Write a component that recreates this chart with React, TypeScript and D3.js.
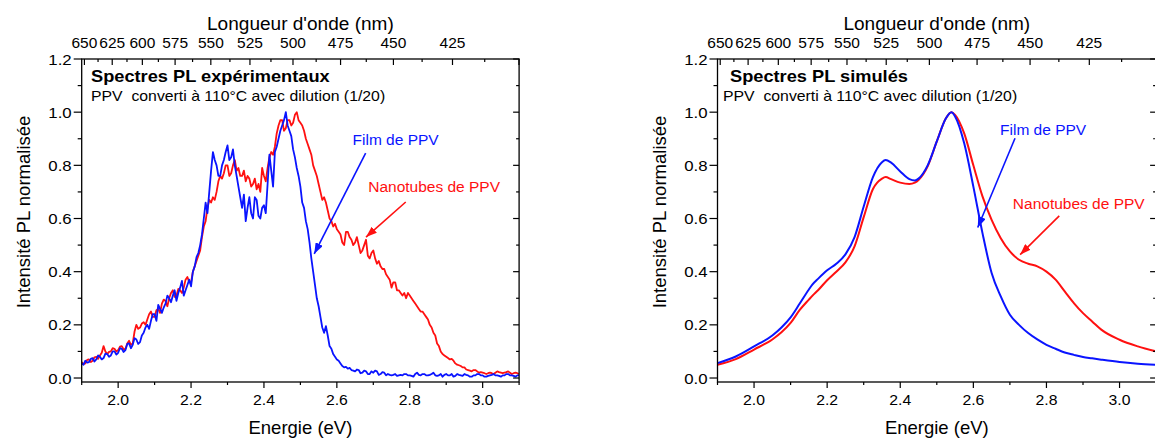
import React from "react";
import * as d3 from "d3";

// ---------- DATA ----------
// Experimental spectra (left panel), energy grid 1.900 .. 3.100 eV, step 0.005
const expEnergy: number[] = d3.range(0, 241).map((i) => +(1.9 + i * 0.005).toFixed(3));

const expFilm: number[] = [
  // 1.900 – 1.995
  0.055, 0.05, 0.065, 0.058, 0.06, 0.072, 0.075, 0.062, 0.07, 0.085, 0.08, 0.07, 0.075, 0.092, 0.09, 0.08, 0.085, 0.1, 0.1, 0.088,
  // 2.000 – 2.095
  0.095, 0.112, 0.11, 0.098, 0.105, 0.128, 0.13, 0.112, 0.125, 0.15, 0.145, 0.128, 0.135, 0.16, 0.17, 0.19, 0.2, 0.185, 0.215, 0.24,
  // 2.100 – 2.195
  0.24, 0.215, 0.275, 0.26, 0.245, 0.265, 0.28, 0.31, 0.3, 0.285, 0.31, 0.33, 0.29, 0.32, 0.34, 0.365, 0.31, 0.33, 0.35, 0.37,
  // 2.200 – 2.295
  0.345, 0.4, 0.42, 0.455, 0.47, 0.5, 0.54, 0.6, 0.66, 0.62, 0.7, 0.78, 0.85, 0.82, 0.8, 0.76, 0.76, 0.8, 0.82, 0.85,
  // 2.300 – 2.395
  0.875, 0.82, 0.83, 0.86, 0.8, 0.76, 0.72, 0.68, 0.64, 0.69, 0.59, 0.64, 0.68, 0.62, 0.6, 0.68, 0.67, 0.61, 0.6, 0.64,
  // 2.400 – 2.495
  0.65, 0.62, 0.73, 0.84, 0.78, 0.72, 0.85, 0.87, 0.9, 0.93, 0.95, 0.97, 1.0, 0.95, 0.93, 0.91, 0.86, 0.83, 0.79, 0.76,
  // 2.500 – 2.595
  0.72, 0.66, 0.64, 0.59, 0.56, 0.51, 0.45, 0.4, 0.35, 0.3, 0.27, 0.23, 0.19, 0.17, 0.195, 0.16, 0.12, 0.11, 0.09, 0.08,
  // 2.600 – 2.695
  0.07, 0.065, 0.055, 0.045, 0.04, 0.042, 0.035, 0.038, 0.03, 0.028, 0.025, 0.032, 0.03, 0.018, 0.02, 0.028, 0.025, 0.015, 0.015, 0.025,
  // 2.700 – 2.795
  0.02, 0.028, 0.025, 0.012, 0.015, 0.022, 0.02, 0.01, 0.015, 0.012, 0.01, 0.012, 0.015, 0.008, 0.01, 0.012, 0.01, 0.015, 0.015, 0.01,
  // 2.800 – 2.895
  0.01, 0.008, 0.005, 0.015, 0.02, 0.012, 0.01, 0.015, 0.015, 0.01, 0.01, 0.012, 0.015, 0.02, 0.01, 0.008, 0.01, 0.015, 0.005, 0.012,
  // 2.900 – 2.995
  0.015, 0.01, 0.01, 0.015, 0.005, 0.008, 0.015, 0.012, 0.01, 0.008, 0.015, 0.012, 0.01, 0.005, 0.005, 0.01, 0.01, 0.015, 0.015, 0.01,
  // 3.000 – 3.095
  0.01, 0.005, 0.005, 0.008, 0.01, 0.012, 0.015, 0.01, 0.01, 0.008, 0.005, 0.01, 0.01, 0.015, 0.015, 0.01, 0.01, 0.008, 0.005, 0.01,
  // 3.100
  0.01,
];

const expTubes: number[] = [
  // 1.900 – 1.995
  0.06, 0.052, 0.055, 0.068, 0.07, 0.06, 0.065, 0.078, 0.08, 0.072, 0.085, 0.095, 0.12, 0.1, 0.09, 0.098, 0.1, 0.112, 0.11, 0.1,
  // 2.000 – 2.095
  0.105, 0.118, 0.12, 0.108, 0.11, 0.13, 0.14, 0.125, 0.13, 0.175, 0.2, 0.185, 0.19, 0.205, 0.21, 0.2, 0.22, 0.24, 0.25, 0.23,
  // 2.100 – 2.195
  0.23, 0.255, 0.26, 0.245, 0.28, 0.295, 0.29, 0.27, 0.3, 0.32, 0.33, 0.305, 0.31, 0.335, 0.33, 0.32, 0.34, 0.37, 0.38, 0.36,
  // 2.200 – 2.295
  0.36, 0.4, 0.42, 0.44, 0.46, 0.48, 0.53, 0.57, 0.59, 0.64, 0.67, 0.66, 0.68, 0.67, 0.7, 0.74, 0.76, 0.75, 0.77, 0.8,
  // 2.300 – 2.395
  0.8, 0.76, 0.77, 0.8, 0.82, 0.78, 0.79, 0.76, 0.76, 0.78, 0.74, 0.76, 0.75, 0.72, 0.73, 0.75, 0.71, 0.73, 0.7, 0.79,
  // 2.400 – 2.495
  0.76, 0.74, 0.79, 0.83, 0.85, 0.84, 0.87, 0.92, 0.95, 0.97, 0.97, 0.93, 0.94, 0.97, 0.97, 0.95, 0.96, 0.99, 1.0, 0.97,
  // 2.500 – 2.595
  0.96, 0.95, 0.93, 0.9, 0.88, 0.86, 0.84, 0.8, 0.78, 0.76, 0.73, 0.7, 0.67, 0.68, 0.66, 0.63, 0.6, 0.59, 0.57, 0.58,
  // 2.600 – 2.695
  0.56, 0.55, 0.54, 0.51, 0.5, 0.55, 0.55, 0.53, 0.52, 0.5, 0.51, 0.53, 0.5, 0.47, 0.48, 0.5, 0.52, 0.46, 0.45, 0.47,
  // 2.700 – 2.795
  0.48, 0.45, 0.43, 0.44, 0.42, 0.41, 0.41, 0.39, 0.38, 0.37, 0.34, 0.36, 0.36, 0.33, 0.33, 0.32, 0.31, 0.32, 0.3, 0.32,
  // 2.800 – 2.895
  0.31, 0.3, 0.29, 0.28, 0.27, 0.26, 0.25, 0.25, 0.24, 0.23, 0.22, 0.2, 0.19, 0.17, 0.16, 0.13, 0.12, 0.1, 0.09, 0.085,
  // 2.900 – 2.995
  0.08, 0.075, 0.07, 0.072, 0.065, 0.055, 0.05, 0.048, 0.045, 0.04, 0.04, 0.032, 0.03, 0.028, 0.025, 0.03, 0.03, 0.025, 0.02, 0.022,
  // 3.000 – 3.095
  0.02, 0.018, 0.015, 0.018, 0.02, 0.018, 0.015, 0.02, 0.025, 0.022, 0.02, 0.018, 0.02, 0.022, 0.025, 0.02, 0.015, 0.018, 0.02, 0.018,
  // 3.100
  0.015,
];

// Simulated spectra (right panel)
const simEnergy: number[] = [
  1.9, 1.95, 2.0, 2.05, 2.075, 2.1, 2.125, 2.15, 2.16, 2.175, 2.2, 2.225, 2.25, 2.275, 2.3, 2.325, 2.35, 2.36,
  2.375, 2.4, 2.425, 2.44, 2.45, 2.475, 2.5, 2.525, 2.54, 2.55, 2.575, 2.6, 2.625, 2.65,
  2.675, 2.7, 2.725, 2.75, 2.775, 2.8, 2.825, 2.85, 2.875, 2.9, 2.925, 2.95, 3.0, 3.05, 3.1,
];
const simFilm: number[] = [
  0.056, 0.081, 0.119, 0.16, 0.19, 0.228, 0.28, 0.333, 0.352, 0.373, 0.405, 0.43, 0.465, 0.53, 0.645, 0.755, 0.812, 0.82,
  0.81, 0.777, 0.748, 0.743, 0.75, 0.8, 0.89, 0.977, 1.0, 0.984, 0.883, 0.72, 0.545, 0.395,
  0.307, 0.238, 0.2, 0.169, 0.145, 0.125, 0.11, 0.096, 0.087, 0.079, 0.074, 0.069, 0.06, 0.054, 0.05,
];
const simTubes: number[] = [
  0.05, 0.071, 0.107, 0.145, 0.172, 0.207, 0.256, 0.295, 0.31, 0.33, 0.368, 0.4, 0.435, 0.495, 0.605, 0.71, 0.75, 0.756,
  0.748, 0.735, 0.73, 0.735, 0.745, 0.796, 0.89, 0.977, 1.0, 0.99, 0.92, 0.8, 0.683, 0.595,
  0.526, 0.476, 0.445, 0.43, 0.42, 0.4, 0.37, 0.326, 0.282, 0.244, 0.213, 0.182, 0.144, 0.119, 0.1,
];

// Axis ticks
const yMajorTicks = [0, 0.2, 0.4, 0.6, 0.8, 1.0, 1.2];
const yMinorTicks = [0.1, 0.3, 0.5, 0.7, 0.9, 1.1];
const xMajorTicks = [2.0, 2.2, 2.4, 2.6, 2.8, 3.0];
const xMinorTicks = [1.9, 2.1, 2.3, 2.5, 2.7, 2.9, 3.1];
const wlLabelled = [650, 625, 600, 575, 550, 525, 500, 475, 450, 425];
const wlMajor = [650, 625, 600, 575, 550, 525, 500, 475, 450, 425, 400];
const wlMinor = [637.5, 612.5, 587.5, 562.5, 537.5, 512.5, 487.5, 462.5, 437.5, 412.5];

const HC = 1239.84; // eV·nm

// ---------- LAYOUT ----------
const W = 1155;
const H = 440;
const FONT = "Arial, 'Liberation Sans', Helvetica, sans-serif";
const BLUE = "#0a14ff";
const RED = "#ff1010";
const Y_TOP = 59;
const Y_BOT = 382;

type Annot = {
  text: string;
  color: string;
  tx: number;
  ty: number;
  from: [number, number];
  to: [number, number];
};

type PanelProps = {
  id: string;
  left: number;
  right: number;
  title: string;
  titleX: number;
  subX: number;
  energy: number[];
  film: number[];
  tubes: number[];
  curve: d3.CurveFactory;
  lineWidth: number;
  annots: Annot[];
};

function SText(props: {
  x: number;
  y: number;
  sx?: number;
  size: number;
  anchor?: string;
  weight?: string | number;
  fill?: string;
  children: React.ReactNode;
}) {
  const { x, y, sx = 1, size, anchor = "start", weight = "normal", fill = "#000" } = props;
  return (
    <text
      transform={`translate(${x},${y}) scale(${sx},1)`}
      fontSize={size}
      fontFamily={FONT}
      textAnchor={anchor}
      fontWeight={weight}
      fill={fill}
      style={{ whiteSpace: "pre" }}
    >
      {props.children}
    </text>
  );
}

function Panel(p: PanelProps) {
  const x = d3.scaleLinear().domain([1.9, 3.1]).range([p.left, p.right]);
  const y = d3.scaleLinear().domain([-0.015, 1.2]).range([Y_BOT, Y_TOP]);
  const line = d3
    .line<number>()
    .x((_, i) => x(p.energy[i]))
    .y((d) => y(d))
    .curve(p.curve);
  const cx = (p.left + p.right) / 2;
  const fmt = d3.format(".1f");
  return (
    <g>
      <defs>
        <clipPath id={`clip-${p.id}`}>
          <rect x={p.left} y={Y_TOP} width={p.right - p.left} height={Y_BOT - Y_TOP} />
        </clipPath>
        <marker id={`arB-${p.id}`} markerUnits="userSpaceOnUse" markerWidth={12} markerHeight={8} refX={11} refY={4} orient="auto">
          <path d="M0,0 L11,4 L0,8 z" fill={BLUE} />
        </marker>
        <marker id={`arR-${p.id}`} markerUnits="userSpaceOnUse" markerWidth={12} markerHeight={8} refX={11} refY={4} orient="auto">
          <path d="M0,0 L11,4 L0,8 z" fill={RED} />
        </marker>
      </defs>

      <g clipPath={`url(#clip-${p.id})`}>
        <path d={line(p.tubes) || ""} fill="none" stroke={RED} strokeWidth={p.lineWidth} strokeLinejoin="round" />
        <path d={line(p.film) || ""} fill="none" stroke={BLUE} strokeWidth={p.lineWidth} strokeLinejoin="round" />
      </g>

      <rect x={p.left} y={Y_TOP} width={p.right - p.left} height={Y_BOT - Y_TOP} fill="none" stroke="#000" strokeWidth={1.3} />

      {yMajorTicks.map((t) => (
        <g key={`ly${t}`}>
          <line x1={p.left - 8} x2={p.left} y1={y(t)} y2={y(t)} stroke="#000" strokeWidth={1.2} />
          <line x1={p.right - 6} x2={p.right} y1={y(t)} y2={y(t)} stroke="#000" strokeWidth={1.2} />
          <SText x={p.left - 10} y={y(t) + 5.5} size={15} sx={1.12} anchor="end">
            {fmt(t)}
          </SText>
        </g>
      ))}
      {yMinorTicks.map((t) => (
        <g key={`lym${t}`}>
          <line x1={p.left - 4} x2={p.left} y1={y(t)} y2={y(t)} stroke="#000" strokeWidth={1.2} />
          <line x1={p.right - 3} x2={p.right} y1={y(t)} y2={y(t)} stroke="#000" strokeWidth={1.2} />
        </g>
      ))}

      {xMajorTicks.map((t) => (
        <g key={`bx${t}`}>
          <line x1={x(t)} x2={x(t)} y1={Y_BOT} y2={Y_BOT + 6} stroke="#000" strokeWidth={1.2} />
          <SText x={x(t)} y={Y_BOT + 23} size={15} sx={1.05} anchor="middle">
            {fmt(t)}
          </SText>
        </g>
      ))}
      {xMinorTicks.map((t) => (
        <line key={`bxm${t}`} x1={x(t)} x2={x(t)} y1={Y_BOT} y2={Y_BOT + 3} stroke="#000" strokeWidth={1.2} />
      ))}

      {wlMajor.map((w) => (
        <line key={`tw${w}`} x1={x(HC / w)} x2={x(HC / w)} y1={Y_TOP} y2={Y_TOP + 6} stroke="#000" strokeWidth={1.2} />
      ))}
      {wlMinor.map((w) => (
        <line key={`twm${w}`} x1={x(HC / w)} x2={x(HC / w)} y1={Y_TOP} y2={Y_TOP + 3} stroke="#000" strokeWidth={1.2} />
      ))}
      {wlLabelled.map((w) => (
        <SText key={`twl${w}`} x={x(HC / w)} y={48} size={15.5} sx={1.0} anchor="middle">
          {String(w)}
        </SText>
      ))}

      <SText x={cx} y={30} size={18.5} sx={1.03} anchor="middle">
        Longueur d'onde (nm)
      </SText>
      <SText x={cx} y={434} size={18.5} sx={1.0} anchor="middle">
        Energie (eV)
      </SText>
      <text
        transform={`translate(${p.left - 52},${212}) rotate(-90)`}
        fontSize={18.5}
        fontFamily={FONT}
        textAnchor="middle"
      >
        Intensité PL normalisée
      </text>

      <SText x={p.titleX} y={82} size={16} sx={1.14} weight="bold">
        {p.title}
      </SText>
      <SText x={p.subX} y={101} size={14} sx={1.13}>
        {"PPV  converti à 110°C avec dilution (1/20)"}
      </SText>

      {p.annots.map((a, i) => (
        <g key={`an${i}`}>
          <SText x={x(a.tx)} y={y(a.ty)} size={15.5} fill={a.color}>
            {a.text}
          </SText>
          <line
            x1={x(a.from[0])}
            y1={y(a.from[1])}
            x2={x(a.to[0])}
            y2={y(a.to[1])}
            stroke={a.color}
            strokeWidth={1.6}
            markerEnd={`url(#${a.color === BLUE ? "arB" : "arR"}-${p.id})`}
          />
        </g>
      ))}
    </g>
  );
}

export default function App() {
  return (
    <svg
      width={W}
      height={H}
      viewBox={`0 0 ${W} ${H}`}
      style={{ position: "absolute", left: 0, top: 0, background: "#fff" }}
    >
      <rect x={0} y={0} width={W} height={H} fill="#fff" />
      <Panel
        id="exp"
        left={81.7}
        right={519.1}
        title="Spectres PL expérimentaux"
        titleX={91}
        subX={91}
        energy={expEnergy}
        film={expFilm}
        tubes={expTubes}
        curve={d3.curveLinear}
        lineWidth={1.8}
        annots={[
          { text: "Film de PPV", color: BLUE, tx: 2.643, ty: 0.877, from: [2.679, 0.846], to: [2.538, 0.467] },
          { text: "Nanotubes de PPV", color: RED, tx: 2.686, ty: 0.698, from: [2.789, 0.662], to: [2.68, 0.53] },
        ]}
      />
      <Panel
        id="sim"
        left={717.5}
        right={1156.1}
        title="Spectres PL simulés"
        titleX={730}
        subX={723}
        energy={simEnergy}
        film={simFilm}
        tubes={simTubes}
        curve={d3.curveMonotoneX}
        lineWidth={2}
        annots={[
          { text: "Film de PPV", color: BLUE, tx: 2.673, ty: 0.915, from: [2.714, 0.902], to: [2.612, 0.566] },
          { text: "Nanotubes de PPV", color: RED, tx: 2.708, ty: 0.635, from: [2.835, 0.61], to: [2.728, 0.464] },
        ]}
      />
    </svg>
  );
}
